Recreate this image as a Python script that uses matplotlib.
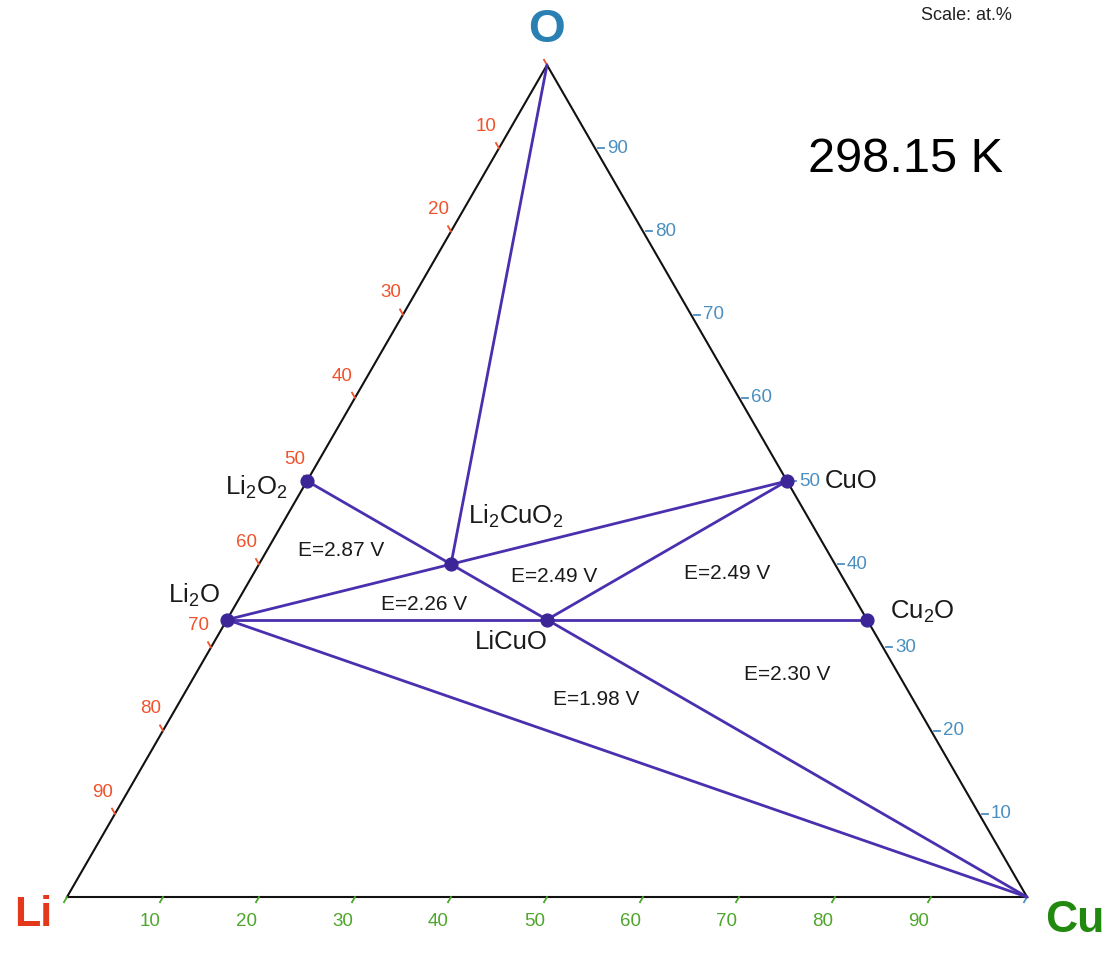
import numpy as np
import matplotlib
matplotlib.use("Agg")
import matplotlib.pyplot as plt

plt.rcParams['font.family'] = ['Liberation Sans', 'DejaVu Sans']
plt.rcParams['mathtext.fontset'] = 'custom'
plt.rcParams['mathtext.rm'] = 'Liberation Sans'
plt.rcParams['mathtext.it'] = 'Liberation Sans:italic'
plt.rcParams['mathtext.bf'] = 'Liberation Sans:bold'

# Phases: composition in at.% (Li, Cu, O)
phase_names = ["Li$_2$O$_2$", "Li$_2$O", "Li$_2$CuO$_2$", "LiCuO", "CuO", "Cu$_2$O"]
phase_li = [50.0, 66.667, 40.0, 33.333, 0.0, 0.0]
phase_cu = [0.0, 0.0, 20.0, 33.333, 50.0, 66.667]
phase_o = [50.0, 33.333, 40.0, 33.333, 50.0, 33.333]
# label offsets in pixels (x right, y down) and horizontal alignment
phase_label_dx = [-20, -7, 17, -36, 38, 23]
phase_label_dy = [6, -24, -48, 22, 0, -8]
phase_label_ha = ["right", "right", "left", "center", "left", "left"]

# Tie lines between compositions (Li, Cu, O) in at.%
tie_lines = [
    ((0, 0, 100), (40, 20, 40)),          # O - Li2CuO2
    ((50, 0, 50), (0, 100, 0)),           # Li2O2 - Cu
    ((66.667, 0, 33.333), (0, 50, 50)),   # Li2O - CuO
    ((66.667, 0, 33.333), (0, 66.667, 33.333)),  # Li2O - Cu2O
    ((33.333, 33.333, 33.333), (0, 50, 50)),     # LiCuO - CuO
    ((66.667, 0, 33.333), (0, 100, 0)),   # Li2O - Cu
]

# Voltage labels placed inside their triangles (Li, Cu, O)
volt_text = ["E=2.87 V", "E=2.26 V", "E=2.49 V", "E=2.49 V", "E=2.30 V", "E=1.98 V"]
volt_li = [50.6, 45.2, 30.0, 11.8, 11.65, 33.05]
volt_cu = [7.7, 19.6, 31.5, 49.3, 61.65, 43.25]
volt_o = [41.7, 35.2, 38.5, 38.9, 26.7, 23.7]

ticks = [10, 20, 30, 40, 50, 60, 70, 80, 90]
left_tick_labels = ticks    # Li at.%
right_tick_labels = ticks   # O at.%
bottom_tick_labels = ticks  # Cu at.%

H = np.sqrt(3) / 2


def tern(li, cu, o):
    s = li + cu + o
    cu, o = cu / s, o / s
    return cu + 0.5 * o, H * o


W, Hpx = 1103, 957
fig = plt.figure(figsize=(W / 100, Hpx / 100), dpi=100)
fig.patch.set_facecolor('white')
ax = fig.add_axes([67 / W, (957 - 897) / Hpx, 960 / W, 832 / Hpx])
ax.set_xlim(0, 1)
ax.set_ylim(0, H)
ax.axis('off')

# Triangle frame
vx = [0, 1, 0.5, 0]
vy = [0, 0, H, 0]
ax.plot(vx, vy, color='#111111', lw=1.5, solid_joinstyle='miter', clip_on=False, zorder=2)

purple = '#4a2fae'
for a, b in tie_lines:
    x0, y0 = tern(*a)
    x1, y1 = tern(*b)
    ax.plot([x0, x1], [y0, y1], color=purple, lw=2.0, clip_on=False, zorder=3,
            solid_capstyle='round')

px, py = tern(np.array(phase_li), np.array(phase_cu), np.array(phase_o))
ax.scatter(px, py, s=85, color='#3b2597', zorder=4, clip_on=False)

for name, x, y, dx, dy, ha in zip(phase_names, px, py, phase_label_dx,
                                  phase_label_dy, phase_label_ha):
    ax.annotate(name, (x, y), xytext=(dx, -dy), textcoords='offset pixels',
                ha=ha, va='center', fontsize=18.5, color='#1a1a1a', zorder=5)

for t, a, b, c in zip(volt_text, volt_li, volt_cu, volt_o):
    x, y = tern(a, b, c)
    ax.text(x, y, t, ha='center', va='center', fontsize=15, color='#1a1a1a', zorder=5)

# Axis ticks, each drawn outward parallel to the neighbouring edge
tick_len = 6 / 960
lab_off = 25 / 960
left_col, right_col, bottom_col = '#f0522c', '#4a8fc0', '#4ea62c'
tick_fs = 13.5

# Left edge: Li at.% from O (0) to Li (100)
d_left = np.array([-0.5, H])
for v in [0] + left_tick_labels:
    x, y = tern(v, 0, 100 - v)
    ax.plot([x, x + d_left[0] * tick_len], [y, y + d_left[1] * tick_len],
            color=left_col, lw=1.3, clip_on=False)
    if v:
        ax.text(x + d_left[0] * lab_off, y + d_left[1] * lab_off, str(v),
                ha='center', va='center', fontsize=tick_fs, color=left_col)

# Right edge: O at.% from Cu (0) to O (100)
for v in right_tick_labels:
    x, y = tern(0, 100 - v, v)
    ax.plot([x + 3 / 960, x + 3 / 960 + tick_len], [y, y], color=right_col, lw=1.3,
            clip_on=False)
    ax.text(x + 12 / 960, y, str(v), ha='left', va='center', fontsize=tick_fs,
            color=right_col)

# Bottom edge: Cu at.% from Li (0) to Cu (100)
d_bot = np.array([-0.5, -H])
for v in [0] + bottom_tick_labels + [100]:
    x, y = tern(100 - v, v, 0)
    ax.plot([x, x + d_bot[0] * tick_len], [y, y + d_bot[1] * tick_len],
            color=bottom_col if v < 100 else right_col, lw=1.3, clip_on=False)
    if 0 < v < 100:
        ax.text(x + d_bot[0] * lab_off, y + d_bot[1] * lab_off - 3 / 960, str(v),
                ha='center', va='center', fontsize=tick_fs, color=bottom_col)

# Corner element labels
fig.text(547 / W, 1 - 30 / Hpx, 'O', ha='center', va='center', fontsize=34,
         fontweight='bold', color='#2a80b2')
fig.text(33 / W, 1 - 915 / Hpx, 'Li', ha='center', va='center', fontsize=31,
         fontweight='bold', color='#e3381b')
fig.text(1045 / W, 1 - 920 / Hpx, 'Cu', ha='left', va='center', fontsize=32,
         fontweight='bold', color='#22890f')

fig.text(905 / W, 1 - 160 / Hpx, '298.15 K', ha='center', va='center', fontsize=35,
         color='black')
fig.text(966 / W, 1 - 16 / Hpx, 'Scale: at.%', ha='center', va='center', fontsize=13,
         color='#222222')

fig.savefig('out.png', dpi=100, facecolor='white')
